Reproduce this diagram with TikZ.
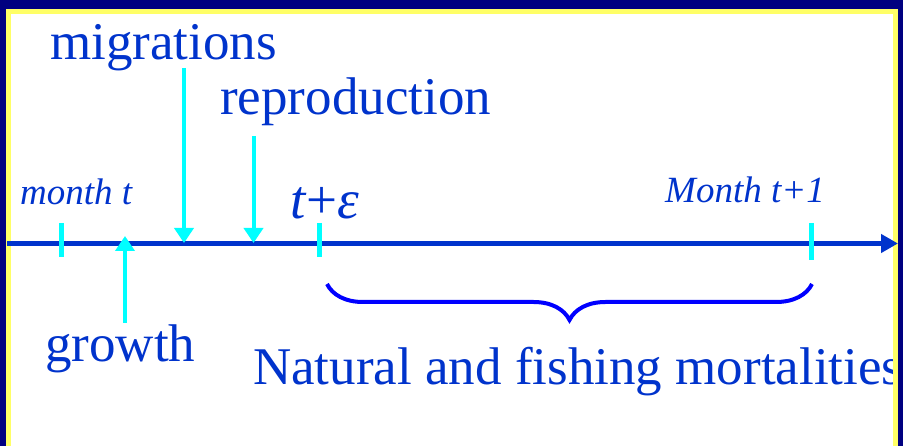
\documentclass[tikz,border=0pt]{standalone}
\usepackage{fontspec}
\setmainfont{Liberation Serif}
\usetikzlibrary{arrows.meta,decorations.pathreplacing}
\definecolor{navybg}{RGB}{0,0,128}
\definecolor{frameyellow}{RGB}{255,255,102}
\definecolor{txtblue}{RGB}{0,51,204}
\definecolor{axisblue}{RGB}{0,51,204}
\definecolor{markcyan}{RGB}{0,255,255}
\definecolor{braceblue}{RGB}{0,0,255}
\tikzset{
  lbl/.style={anchor=base west,inner sep=0pt,text=txtblue,font=\fontsize{53}{60}\selectfont},
  smalllbl/.style={anchor=base west,inner sep=0pt,text=txtblue,font=\fontsize{37}{42}\selectfont\itshape},
  tickmark/.style={draw=markcyan,line width=5pt},
  event/.style={draw=markcyan,line width=4pt,-{Triangle[length=15pt,width=19pt]}},
  axisline/.style={draw=axisblue,line width=5pt,-{Triangle[length=17pt,width=18pt]}},
  bracestyle/.style={draw=braceblue,line width=4pt,decorate,decoration={brace,mirror,amplitude=36pt}}
}
\begin{document}
\begin{tikzpicture}[x=1pt,y=1pt]
\useasboundingbox (0,0) rectangle (903,-446);
\fill[navybg] (0,0) rectangle (903,-446);
\fill[white] (8.5,-11.5) rectangle (895.5,-470);
\begin{scope}
\clip (11,-14) rectangle (893,-446);
\node[lbl] (migr) at (50,-60) {migrations};
\node[lbl] (repro) at (220,-115) {reproduction};
\node[lbl] (grow) at (45,-362) {growth};
\node[lbl] (mort) at (253,-385) {Natural and fishing mortalities};
\node[smalllbl] (mt) at (20,-205) {month t};
\node[smalllbl] (mt1) at (665,-203) {Month t+1};
\node[anchor=base west,inner sep=0pt,text=txtblue,font=\fontsize{55}{60}\selectfont] (teps) at (290,-219) {\textit{t}+\textit{ε}};
\end{scope}
\draw[frameyellow,line width=5pt] (8.5,-470) -- (8.5,-11.5) -- (895.5,-11.5) -- (895.5,-470);
\coordinate (axL) at (7,-243.5);
\coordinate (axR) at (898,-243.5);
\draw[axisline] (axL) -- (axR);
\coordinate (t0a) at (61,-223); \coordinate (t0b) at (61,-257);
\coordinate (t1a) at (319,-223); \coordinate (t1b) at (319,-257);
\coordinate (t2a) at (811.5,-223); \coordinate (t2b) at (811.5,-260);
\draw[tickmark] (t0a) -- (t0b);
\draw[tickmark] (t1a) -- (t1b);
\draw[tickmark] (t2a) -- (t2b);
\coordinate (mA) at (184,-68); \coordinate (mB) at (184,-243);
\coordinate (rA) at (253.5,-136); \coordinate (rB) at (253.5,-243);
\coordinate (gA) at (125,-323); \coordinate (gB) at (125,-236);
\draw[event] (mA) -- (mB);
\draw[event] (rA) -- (rB);
\draw[event] (gA) -- (gB);
\coordinate (bL) at (327,-284);
\coordinate (bR) at (812,-284);
\draw[bracestyle] (bL) -- (bR);
\end{tikzpicture}
\end{document}
